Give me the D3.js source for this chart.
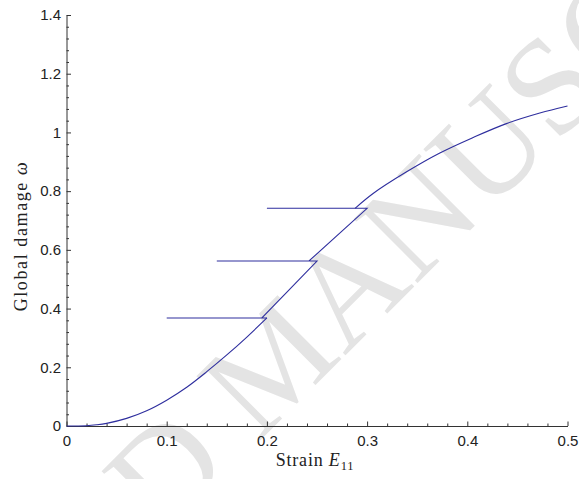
<!DOCTYPE html>
<html>
<head>
<meta charset="utf-8">
<script src="https://cdn.jsdelivr.net/npm/d3@7"></script>
<style>
  html, body { margin: 0; padding: 0; background: #fff; }
  svg { display: block; }
</style>
</head>
<body>
<svg id="chart" width="579" height="479"></svg>
<script>
// ---- data ----
const loadStrain = [0, 0.02, 0.03, 0.04, 0.06, 0.08, 0.10, 0.12, 0.14, 0.16, 0.18, 0.20];
const loadDamage = [0, 0.001, 0.004, 0.009, 0.026, 0.052, 0.088, 0.132, 0.185, 0.242, 0.303, 0.368];

const unloadFrom = [0.20, 0.25, 0.30];
const unloadTo = [0.10, 0.15, 0.20];
const reloadFrom = [0.195, 0.242, 0.288];
const damageLevels = [0.368, 0.562, 0.7415];

const tailStrain = [0.288, 0.306, 0.339, 0.3726, 0.406, 0.439, 0.4724, 0.50];
const tailDamage = [0.7415, 0.792, 0.865, 0.930, 0.983, 1.030, 1.066, 1.09];

const xTicks = [0, 0.1, 0.2, 0.3, 0.4, 0.5];
const xTickLabels = ["0", "0.1", "0.2", "0.3", "0.4", "0.5"];
const yTicks = [0, 0.2, 0.4, 0.6, 0.8, 1.0, 1.2, 1.4];
const yTickLabels = ["0", "0.2", "0.4", "0.6", "0.8", "1", "1.2", "1.4"];

// ---- chart ----
const svg = d3.select("#chart");
const x = d3.scaleLinear().domain([0, 0.5]).range([66.5, 567.5]);
const y = d3.scaleLinear().domain([0, 1.4]).range([426, 15]);

// watermark
svg.append("text")
  .attr("transform", "translate(276,361) rotate(-45)")
  .attr("text-anchor", "middle")
  .attr("y", 45)
  .style("font-family", "'Liberation Serif', 'Times New Roman', serif")
  .style("font-size", "138px")
  .style("fill", "#e4e4e4")
  .text("ACCEPTED MANUSCRIPT");

// minor ticks
const xMinor = d3.range(0, 0.5001, 0.02).filter(v => Math.abs(v*10 - Math.round(v*10)) > 1e-6);
const yMinor = d3.range(0, 1.4001, 0.04).filter(v => Math.abs(v*5 - Math.round(v*5)) > 1e-6);

const gx = svg.append("g").attr("transform", `translate(0,${y(0)})`);
gx.call(d3.axisBottom(x).tickValues(xTicks).tickFormat((d, i) => xTickLabels[i])
  .tickSizeInner(-4.5).tickSizeOuter(0).tickPadding(9));
const gxm = svg.append("g").attr("transform", `translate(0,${y(0)})`);
gxm.call(d3.axisBottom(x).tickValues(xMinor).tickFormat("").tickSizeInner(-2.5).tickSizeOuter(0));
gxm.select(".domain").remove();

const gy = svg.append("g").attr("transform", `translate(${x(0)},0)`);
gy.call(d3.axisLeft(y).tickValues(yTicks).tickFormat((d, i) => yTickLabels[i])
  .tickSizeInner(-4.5).tickSizeOuter(0).tickPadding(5.5));
const gym = svg.append("g").attr("transform", `translate(${x(0)},0)`);
gym.call(d3.axisLeft(y).tickValues(yMinor).tickFormat("").tickSizeInner(-2.5).tickSizeOuter(0));
gym.select(".domain").remove();

svg.selectAll(".domain, .tick line").attr("stroke", "#333").attr("stroke-width", 1);
svg.selectAll(".tick text")
  .style("font-family", "'Liberation Sans', Arial, sans-serif")
  .style("font-size", "15px")
  .attr("fill", "#222");

// curves
const colour = "#2e2e9e";
const smooth = d3.line().x(d => x(d[0])).y(d => y(d[1])).curve(d3.curveCatmullRom);
const straight = d3.line().x(d => x(d[0])).y(d => y(d[1]));

svg.append("path")
  .attr("d", smooth(loadStrain.map((s, i) => [s, loadDamage[i]])))
  .attr("fill", "none").attr("stroke", colour).attr("stroke-width", 1.1);

const steps = [];
damageLevels.forEach((dmg, i) => {
  steps.push([unloadFrom[i], dmg], [unloadTo[i], dmg], [reloadFrom[i], dmg]);
});
svg.append("path")
  .attr("d", straight(steps))
  .attr("fill", "none").attr("stroke", colour).attr("stroke-width", 1.1)
  .attr("stroke-linejoin", "miter");

svg.append("path")
  .attr("d", smooth(tailStrain.map((s, i) => [s, tailDamage[i]])))
  .attr("fill", "none").attr("stroke", colour).attr("stroke-width", 1.1);

// axis titles
const serif = "'Liberation Serif', 'Times New Roman', serif";
const xt = svg.append("text")
  .attr("x", 315).attr("y", 466)
  .attr("text-anchor", "middle")
  .style("font-family", serif).style("font-size", "18px").style("letter-spacing", "0.8px")
  .attr("fill", "#222");
xt.append("tspan").text("Strain ");
xt.append("tspan").style("font-style", "italic").text("E");
xt.append("tspan").attr("dy", 4).style("font-size", "12.5px").text("11");

const yt = svg.append("text")
  .attr("transform", "translate(27,236) rotate(-90)")
  .attr("text-anchor", "middle")
  .style("font-family", serif).style("font-size", "18px").style("letter-spacing", "1.6px")
  .attr("fill", "#222");
yt.append("tspan").text("Global damage ");
yt.append("tspan").style("font-style", "italic").text("ω");
</script>
</body>
</html>
